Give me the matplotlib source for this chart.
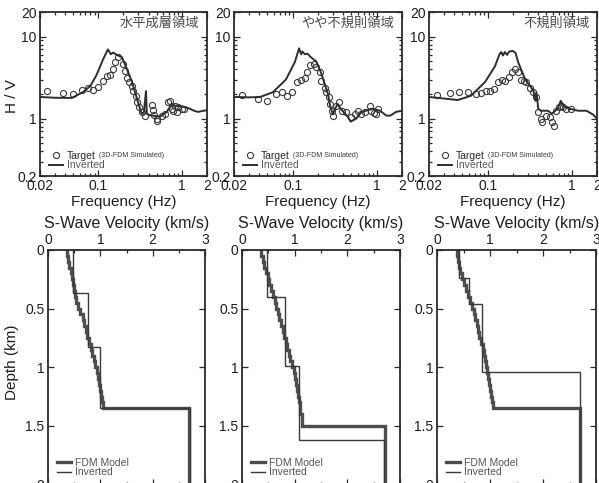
import matplotlib
matplotlib.use('Agg')
import matplotlib.pyplot as plt
from matplotlib.ticker import FixedLocator, FixedFormatter, NullFormatter, LogLocator, MultipleLocator

plt.rcParams['font.family'] = ['Liberation Sans', 'Noto Sans CJK JP']

# ---------------- data: H/V spectra ----------------
region_titles = ['水平成層領域', 'やや不規則領域', '不規則領域']

inv1_f = [0.02, 0.03, 0.048, 0.065, 0.080, 0.095, 0.114, 0.130, 0.141, 0.150, 0.167, 0.192, 0.22, 0.25,
          0.275, 0.315, 0.33, 0.351, 0.372, 0.38, 0.42, 0.45, 0.547, 0.66, 0.76, 0.85, 0.95, 1.1, 1.25,
          1.4, 1.56, 1.75, 2.0]
inv1_h = [1.84, 1.80, 1.79, 2.1, 2.5, 3.4, 5.3, 7.0, 6.1, 6.4, 6.0, 5.6, 4.0, 2.9,
          2.1, 1.32, 1.15, 1.2, 2.17, 1.15, 1.1, 1.09, 1.06, 1.21, 1.52, 1.42, 1.43, 1.38, 1.32,
          1.25, 1.21, 1.24, 1.27]
tgt1_f = [0.0243, 0.0377, 0.0497, 0.064, 0.075, 0.086, 0.099, 0.114, 0.127, 0.137, 0.148, 0.16, 0.17,
          0.196, 0.21, 0.22, 0.23, 0.25, 0.26, 0.28, 0.29, 0.31, 0.33, 0.36, 0.44, 0.45, 0.47, 0.50,
          0.51, 0.58, 0.63, 0.68, 0.72, 0.76, 0.79, 0.83, 0.87, 0.90, 1.0, 1.06]
tgt1_h = [2.17, 2.06, 2.0, 2.23, 2.36, 2.23, 2.43, 2.87, 3.3, 3.4, 4.0, 4.9, 5.7,
          4.6, 3.8, 3.1, 2.8, 2.5, 2.17, 1.9, 1.6, 1.4, 1.2, 1.09, 1.47, 1.28, 1.12, 1.0,
          0.95, 1.09, 1.15, 1.6, 1.65, 1.32, 1.25, 1.43, 1.21, 1.4, 1.32, 1.32]

inv2_f = [0.02, 0.03, 0.041, 0.058, 0.083, 0.106, 0.119, 0.126, 0.13, 0.14, 0.15, 0.165, 0.19, 0.216,
          0.263, 0.28, 0.30, 0.34, 0.39, 0.45, 0.49, 0.57, 0.65, 0.74, 0.90, 1.1, 1.3, 1.45, 1.7, 2.0]
inv2_h = [1.84, 1.82, 1.84, 2.1, 3.0, 4.9, 7.2, 6.1, 6.6, 6.1, 6.2, 5.6, 5.0, 3.7,
          2.0, 1.4, 1.15, 1.5, 1.25, 1.06, 0.92, 1.0, 1.2, 1.25, 1.32, 1.25, 1.09, 1.09, 1.21, 1.25]
tgt2_f = [0.0249, 0.0386, 0.049, 0.063, 0.074, 0.085, 0.097, 0.112, 0.126, 0.14, 0.148, 0.16, 0.18,
          0.19, 0.21, 0.22, 0.24, 0.25, 0.27, 0.28, 0.29, 0.30, 0.33, 0.36, 0.39, 0.43, 0.49, 0.55,
          0.60, 0.65, 0.72, 0.83, 0.86, 0.93, 0.98, 1.05]
tgt2_h = [1.95, 1.74, 1.65, 2.0, 2.1, 1.9, 2.1, 2.8, 3.0, 3.1, 3.7, 4.5, 4.7,
          4.3, 3.7, 2.9, 2.4, 2.1, 1.84, 1.5, 1.25, 1.09, 1.43, 1.6, 1.25, 1.21, 1.06, 1.15,
          1.25, 1.15, 1.21, 1.43, 1.25, 1.18, 1.15, 1.32]

inv3_f = [0.02, 0.044, 0.063, 0.093, 0.122, 0.138, 0.145, 0.152, 0.16, 0.17, 0.18, 0.20, 0.215, 0.23,
          0.28, 0.32, 0.35, 0.37, 0.38, 0.40, 0.43, 0.52, 0.58, 0.68, 0.74, 0.82, 0.95, 1.19, 1.5,
          1.8, 2.0]
inv3_h = [1.84, 1.69, 1.9, 2.8, 4.35, 6.1, 6.5, 5.9, 6.5, 6.0, 6.6, 6.7, 6.3, 4.9,
          3.0, 2.5, 2.2, 1.65, 2.1, 1.32, 1.25, 1.25, 1.15, 1.32, 1.65, 1.4, 1.32, 1.25, 1.25,
          1.12, 1.0]
tgt3_f = [0.0249, 0.0356, 0.046, 0.059, 0.072, 0.083, 0.096, 0.107, 0.12, 0.134, 0.148, 0.16, 0.18,
          0.195, 0.21, 0.23, 0.25, 0.27, 0.285, 0.32, 0.35, 0.38, 0.40, 0.43, 0.44, 0.50, 0.55,
          0.58, 0.61, 0.65, 0.70, 0.74, 0.79, 0.86, 0.98]
tgt3_h = [1.95, 2.06, 2.1, 2.1, 2.0, 2.06, 2.17, 2.17, 2.3, 2.8, 2.95, 2.9, 3.2,
          3.7, 4.0, 3.7, 3.0, 2.9, 2.8, 2.4, 2.1, 1.84, 1.21, 1.0, 0.92, 1.09, 1.06,
          0.92, 0.82, 1.25, 1.4, 1.43, 1.4, 1.32, 1.32]

hv_inv = [(inv1_f, inv1_h), (inv2_f, inv2_h), (inv3_f, inv3_h)]
hv_tgt = [(tgt1_f, tgt1_h), (tgt2_f, tgt2_h), (tgt3_f, tgt3_h)]

freq_ticks = [0.02, 0.1, 1, 2]
freq_ticklabels = ['0.02', '0.1', '1', '2']
hv_ticks = [0.2, 1, 10, 20]
hv_ticklabels = ['0.2', '1', '10', '20']

# ---------------- data: velocity profiles ----------------
fdm1_tops = [0.00, 0.05, 0.10, 0.15, 0.20, 0.25, 0.30, 0.35, 0.40, 0.45, 0.50, 0.55, 0.60, 0.65,
             0.70, 0.75, 0.80, 0.85, 0.90, 0.95, 1.00, 1.05, 1.10, 1.15, 1.20, 1.25, 1.30, 1.35]
fdm1_vs = [0.37, 0.39, 0.41, 0.43, 0.45, 0.47, 0.49, 0.51, 0.54, 0.58, 0.62, 0.66, 0.69, 0.72,
           0.75, 0.78, 0.82, 0.85, 0.88, 0.90, 0.93, 0.95, 0.97, 0.99, 1.01, 1.03, 1.05, 2.70]
fdm2_tops = [0.00, 0.05, 0.10, 0.15, 0.20, 0.25, 0.30, 0.35, 0.40, 0.45, 0.50, 0.55, 0.60, 0.65,
             0.70, 0.75, 0.80, 0.85, 0.90, 0.95, 1.00, 1.05, 1.10, 1.15, 1.20, 1.25, 1.30, 1.35,
             1.40, 1.45, 1.50]
fdm2_vs = [0.36, 0.39, 0.42, 0.46, 0.49, 0.52, 0.55, 0.58, 0.62, 0.65, 0.68, 0.71, 0.74, 0.77,
           0.80, 0.83, 0.86, 0.89, 0.92, 0.95, 0.98, 1.00, 1.02, 1.04, 1.06, 1.08, 1.10, 1.11,
           1.13, 1.14, 2.71]
fdm3_tops = [0.00, 0.05, 0.10, 0.15, 0.20, 0.25, 0.30, 0.35, 0.40, 0.45, 0.50, 0.55, 0.60, 0.65,
             0.70, 0.75, 0.80, 0.85, 0.90, 0.95, 1.00, 1.05, 1.10, 1.15, 1.20, 1.25, 1.30, 1.35]
fdm3_vs = [0.37, 0.39, 0.41, 0.44, 0.47, 0.50, 0.54, 0.58, 0.62, 0.66, 0.69, 0.72, 0.75, 0.78,
           0.80, 0.83, 0.86, 0.88, 0.90, 0.92, 0.94, 0.96, 0.98, 1.00, 1.02, 1.04, 1.06, 2.69]

vinv1_tops = [0.0, 0.37, 0.83, 1.35]
vinv1_vs = [0.48, 0.77, 0.99, 2.71]
vinv2_tops = [0.0, 0.40, 0.99, 1.62]
vinv2_vs = [0.48, 0.82, 1.08, 2.70]
vinv3_tops = [0.0, 0.24, 0.46, 1.04]
vinv3_vs = [0.42, 0.60, 0.85, 2.69]

fdm_models = [(fdm1_tops, fdm1_vs), (fdm2_tops, fdm2_vs), (fdm3_tops, fdm3_vs)]
inv_models = [(vinv1_tops, vinv1_vs), (vinv2_tops, vinv2_vs), (vinv3_tops, vinv3_vs)]
max_depth = 2.1


def profile_xy(tops, vs, bottom):
    xs, ys = [], []
    for i, v in enumerate(vs):
        z0 = tops[i]
        z1 = tops[i + 1] if i + 1 < len(tops) else bottom
        xs += [v, v]
        ys += [z0, z1]
    return xs, ys


# ---------------- figure ----------------
W, H = 599, 483
fig = plt.figure(figsize=(W / 100, H / 100), dpi=100)


def rect(l, r, t, b):
    return [l / W, 1 - b / H, (r - l) / W, (b - t) / H]


top_rects = [rect(40, 207, 12, 176), rect(234, 402, 12, 176), rect(429, 597, 12, 176)]
bot_rects = [rect(48, 205, 250, 484.5), rect(242, 400, 250, 484.5), rect(437, 596, 250, 484.5)]

spine_c = '#2a2a2a'
text_c = '#1e1e1e'

for i in range(3):
    ax = fig.add_axes(top_rects[i])
    f, h = hv_inv[i]
    tf, th = hv_tgt[i]
    ax.plot(tf, th, 'o', ms=4.4, mfc='none', mec='#3a3a3a', mew=0.8, label='Target')
    ax.plot(f, h, '-', color='#2e2e2e', lw=1.4, label='Inverted')
    ax.set_xscale('log')
    ax.set_yscale('log')
    ax.set_xlim(0.02, 2)
    ax.set_ylim(0.2, 20)
    ax.xaxis.set_major_locator(FixedLocator(freq_ticks))
    ax.xaxis.set_major_formatter(FixedFormatter(freq_ticklabels))
    ax.xaxis.set_minor_locator(LogLocator(base=10, subs=range(2, 10)))
    ax.xaxis.set_minor_formatter(NullFormatter())
    ax.yaxis.set_major_locator(FixedLocator(hv_ticks))
    ax.yaxis.set_major_formatter(FixedFormatter(hv_ticklabels))
    ax.yaxis.set_minor_locator(LogLocator(base=10, subs=range(2, 10)))
    ax.yaxis.set_minor_formatter(NullFormatter())
    ax.tick_params(which='both', direction='in', top=True, right=True, colors=spine_c,
                   labelcolor=text_c, width=0.9)
    ax.tick_params(which='major', length=4, labelsize=10, pad=2.5)
    ax.tick_params(which='minor', length=2)
    for s in ax.spines.values():
        s.set_linewidth(1.3)
        s.set_color(spine_c)
    ax.set_xlabel('Frequency (Hz)', fontsize=11, color=text_c, labelpad=1)
    if i == 0:
        ax.set_ylabel('H / V', fontsize=11, color=text_c)
        ax.yaxis.set_label_coords(-0.128, 0.49)
    ax.text(0.955, 0.93, region_titles[i], transform=ax.transAxes, ha='right', va='center',
            fontsize=9.5, color='#4a4a4a')
    leg = ax.legend(loc='lower left', bbox_to_anchor=(0.055, 0.035), frameon=False, fontsize=7.5,
                    handlelength=1.3, handletextpad=0.4, labelspacing=-0.05, borderpad=0,
                    borderaxespad=0)
    texts = leg.get_texts()
    texts[0].set_color('#2a2a2a')
    texts[1].set_color('#5a5a5a')
    ax.annotate('(3D-FDM Simulated)', xy=(1, 0), xycoords=texts[0], xytext=(2, 1.2),
                textcoords='offset points', fontsize=5, color='#3a3a3a', va='bottom', ha='left',
                zorder=20)

for i in range(3):
    ax = fig.add_axes(bot_rects[i])
    tops, vs = fdm_models[i]
    x, y = profile_xy(tops, vs, max_depth)
    ax.plot(x, y, '-', color='#4d4d4d', lw=2.4, label='FDM Model', solid_joinstyle='miter')
    tops, vs = inv_models[i]
    x, y = profile_xy(tops, vs, max_depth)
    ax.plot(x, y, '-', color='#3a3a3a', lw=1.0, label='Inverted', solid_joinstyle='miter')
    ax.set_xlim(0, 3)
    ax.set_ylim(2, 0)
    ax.xaxis.set_major_locator(MultipleLocator(1))
    ax.xaxis.set_minor_locator(MultipleLocator(0.5))
    ax.yaxis.set_major_locator(FixedLocator([0, 0.5, 1, 1.5, 2]))
    ax.yaxis.set_major_formatter(FixedFormatter(['0', '0.5', '1', '1.5', '2']))
    ax.xaxis.tick_top()
    ax.xaxis.set_label_position('top')
    ax.tick_params(which='both', direction='in', top=True, bottom=True, right=True, left=True,
                   colors=spine_c, labelcolor=text_c, width=0.9)
    ax.tick_params(which='major', length=4, labelsize=10, pad=2.5)
    ax.tick_params(which='minor', length=2.5)
    for s in ax.spines.values():
        s.set_linewidth(1.3)
        s.set_color(spine_c)
    ax.set_xlabel('S-Wave Velocity (km/s)', fontsize=11.5, color=text_c, labelpad=3)
    if i == 0:
        ax.set_ylabel('Depth (km)', fontsize=11, color=text_c)
        ax.yaxis.set_label_coords(-0.185, 0.52)
    leg = ax.legend(loc='lower left', bbox_to_anchor=(0.055, 0.03), frameon=False, fontsize=7.5,
                    handlelength=1.4, handletextpad=0.4, labelspacing=-0.05, borderpad=0,
                    borderaxespad=0)
    for t in leg.get_texts():
        t.set_color('#555555')

fig.savefig('out.png', dpi=100)
